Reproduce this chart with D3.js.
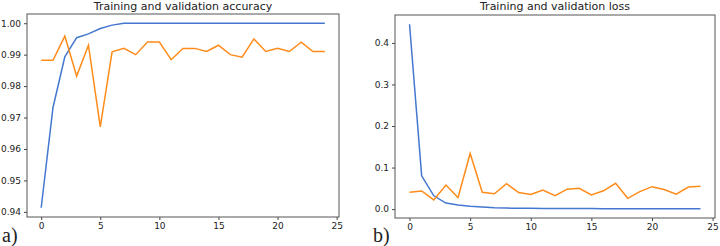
<!DOCTYPE html>
<html>
<head>
<meta charset="utf-8">
<script src="https://cdn.jsdelivr.net/npm/d3@7"></script>
<style>
body { margin: 0; background: #fff; }
svg { display: block; }
text { font-family: "DejaVu Sans", sans-serif; fill: #222; }
</style>
</head>
<body>
<div id="chart"></div>
<script>
// epochs 0..24
var epochs = d3.range(25);

var trainAcc = [0.9413, 0.9732, 0.9893, 0.9954, 0.9966, 0.9983, 0.9994, 1.0, 1.0, 1.0,
  1.0, 1.0, 1.0, 1.0, 1.0, 1.0, 1.0, 1.0, 1.0, 1.0, 1.0, 1.0, 1.0, 1.0, 1.0];
var valAcc = [0.9882, 0.9882, 0.9959, 0.9832, 0.9930, 0.9670, 0.9909, 0.9920, 0.9900, 0.9940,
  0.9940, 0.9884, 0.9920, 0.9920, 0.9910, 0.9930, 0.9900, 0.9892, 0.9950, 0.9910,
  0.9920, 0.9910, 0.9940, 0.9910, 0.9910];

var trainLoss = [0.445, 0.080, 0.032, 0.0145, 0.010, 0.007, 0.005, 0.003, 0.0025, 0.002,
  0.0018, 0.0016, 0.0015, 0.0014, 0.0013, 0.0012, 0.0011, 0.0011, 0.001, 0.001,
  0.001, 0.0009, 0.0009, 0.0009, 0.0008];
var valLoss = [0.0405, 0.0437, 0.022, 0.058, 0.028, 0.134, 0.0405, 0.037, 0.061, 0.040,
  0.035, 0.046, 0.0325, 0.048, 0.050, 0.034, 0.044, 0.062, 0.026, 0.042,
  0.054, 0.047, 0.036, 0.053, 0.055];

var accTicks = [0.94, 0.95, 0.96, 0.97, 0.98, 0.99, 1.00];
var lossTicks = [0.0, 0.1, 0.2, 0.3, 0.4];
var xTicks = [0, 5, 10, 15, 20, 25];

var W = 720, H = 246;
var blue = "#4477d0", orange = "#ff8c1a";

var svg = d3.select("#chart").append("svg")
  .attr("width", W).attr("height", H);

// matplotlib style 5% margins
function padded(ext) {
  var d = (ext[1] - ext[0]) * 0.05;
  return [ext[0] - d, ext[1] + d];
}

function panel(box, train, val, yTicks, yFmt, title, tag) {
  var x = d3.scaleLinear().domain(padded([0, 24])).range([box.left, box.right]);
  var all = train.concat(val);
  var y = d3.scaleLinear().domain(padded(d3.extent(all))).range([box.bottom, box.top]);

  var g = svg.append("g");

  var line = d3.line()
    .x(function(d, i) { return x(epochs[i]); })
    .y(function(d) { return y(d); });

  g.append("path").datum(train)
    .attr("d", line).attr("fill", "none")
    .attr("stroke", blue).attr("stroke-width", 1.5);
  g.append("path").datum(val)
    .attr("d", line).attr("fill", "none")
    .attr("stroke", orange).attr("stroke-width", 1.5);

  var xax = g.append("g")
    .attr("transform", "translate(0," + box.bottom + ")")
    .call(d3.axisBottom(x).tickValues(xTicks).tickSize(3).tickPadding(3).tickFormat(d3.format("d")));
  var yax = g.append("g")
    .attr("transform", "translate(" + box.left + ",0)")
    .call(d3.axisLeft(y).tickValues(yTicks).tickSize(3).tickPadding(3).tickFormat(d3.format(yFmt)));

  [xax, yax].forEach(function(a) {
    a.select(".domain").remove();
    a.selectAll("line").attr("stroke", "#444");
    a.selectAll("text").style("font-size", "9px").style("font-family", "DejaVu Sans, sans-serif").attr("fill", "#333");
  });

  g.append("rect")
    .attr("x", box.left).attr("y", box.top)
    .attr("width", box.right - box.left).attr("height", box.bottom - box.top)
    .attr("fill", "none").attr("stroke", "#555").attr("stroke-width", 1);

  g.append("text")
    .attr("x", (box.left + box.right) / 2).attr("y", 10)
    .attr("text-anchor", "middle")
    .style("font-size", "11px")
    .text(title);

  g.append("text")
    .attr("x", box.tagX).attr("y", 242)
    .style("font-family", "Liberation Serif, serif")
    .style("font-size", "20px")
    .attr("fill", "#000")
    .text(tag);
}

panel({left: 27, right: 339, top: 14, bottom: 217, tagX: 2},
  trainAcc, valAcc, accTicks, ".2f", "Training and validation accuracy", "a)");
panel({left: 395, right: 715, top: 15, bottom: 218, tagX: 373},
  trainLoss, valLoss, lossTicks, ".1f", "Training and validation loss", "b)");
</script>
</body>
</html>
